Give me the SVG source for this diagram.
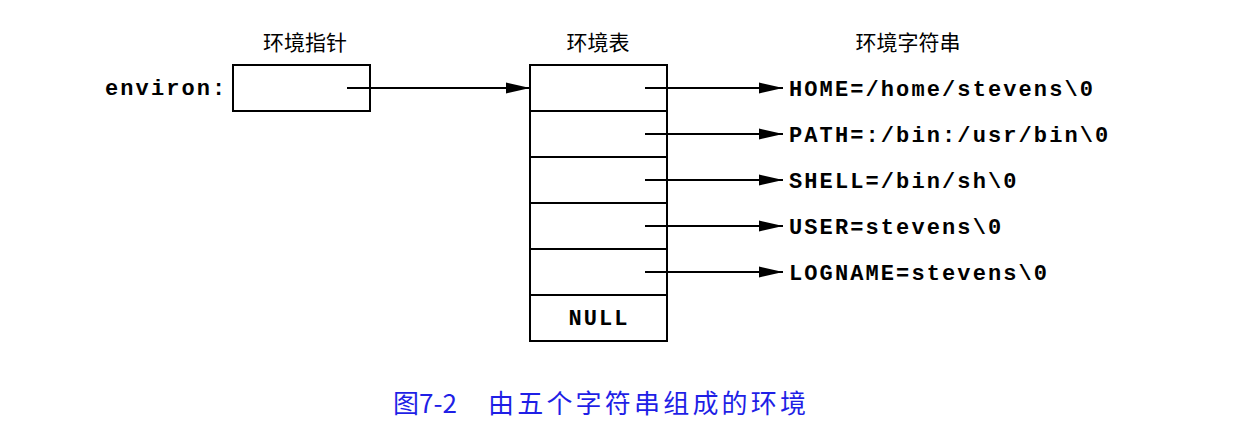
<svg xmlns="http://www.w3.org/2000/svg" width="1248" height="442" viewBox="0 0 1248 442">
<style>
.box{fill:#fff;stroke:#000;stroke-width:2}
.ln{stroke:#000;stroke-width:2;fill:none}
.mono{font-family:"Liberation Mono","Courier New",monospace;font-weight:bold;font-size:22px;letter-spacing:2.1px;fill:#000}
.cjk{font-family:"Noto Sans CJK SC","Noto Sans",sans-serif;font-size:21px;fill:#000}
.cap{font-family:"Noto Sans CJK SC",sans-serif;font-size:26px;fill:#1f1fe6}
</style>
<defs>
<marker id="ah" markerWidth="24" markerHeight="14" refX="24" refY="7" orient="auto" markerUnits="userSpaceOnUse">
<path d="M0,1.5 L24,7 L0,12.5 Z" fill="#000"/>
</marker>
</defs>
<rect width="1248" height="442" fill="#fff"/>
<g id="labels">
<text class="cjk" x="305" y="50" text-anchor="middle">环境指针</text>
<text class="cjk" x="598" y="50" text-anchor="middle">环境表</text>
<text class="cjk" x="908" y="50" text-anchor="middle">环境字符串</text>
</g>
<g id="environ">
<text class="mono" x="105" y="95">environ:</text>
<rect class="box" x="233" y="65" width="137" height="46"/>
</g>
<g id="table">
<rect class="box" x="530" y="65" width="137" height="276"/>
<line class="ln" x1="530" y1="111" x2="667" y2="111"/>
<line class="ln" x1="530" y1="157" x2="667" y2="157"/>
<line class="ln" x1="530" y1="203" x2="667" y2="203"/>
<line class="ln" x1="530" y1="249" x2="667" y2="249"/>
<line class="ln" x1="530" y1="295" x2="667" y2="295"/>
<text class="mono" x="599" y="325" text-anchor="middle">NULL</text>
</g>
<g id="strings">
<text class="mono" x="789" y="96">HOME=/home/stevens\0</text>
<text class="mono" x="789" y="142">PATH=:/bin:/usr/bin\0</text>
<text class="mono" x="789" y="188">SHELL=/bin/sh\0</text>
<text class="mono" x="789" y="234">USER=stevens\0</text>
<text class="mono" x="789" y="280">LOGNAME=stevens\0</text>
</g>
<g id="connectors">
<line class="ln" x1="347" y1="88" x2="530" y2="88" marker-end="url(#ah)"/>
<line class="ln" x1="645" y1="88" x2="783" y2="88" marker-end="url(#ah)"/>
<line class="ln" x1="645" y1="134" x2="783" y2="134" marker-end="url(#ah)"/>
<line class="ln" x1="645" y1="180" x2="783" y2="180" marker-end="url(#ah)"/>
<line class="ln" x1="645" y1="226" x2="783" y2="226" marker-end="url(#ah)"/>
<line class="ln" x1="645" y1="272" x2="783" y2="272" marker-end="url(#ah)"/>
</g>
<g id="caption">
<text class="cap" x="393" y="413">图7-2</text>
<text class="cap" x="488" y="413" letter-spacing="3.2">由五个字符串组成的环境</text>
</g>
</svg>
